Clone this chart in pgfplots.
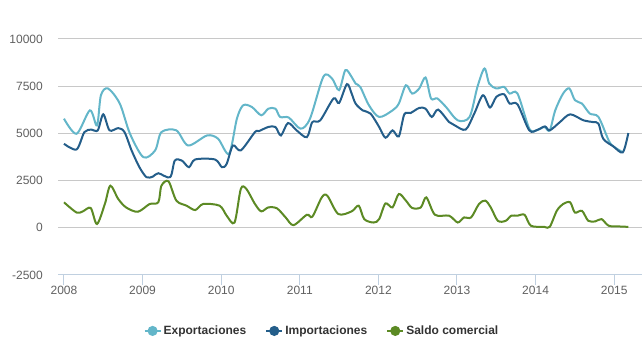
\documentclass[border=0pt]{standalone}
\usepackage{fontspec}
\setmainfont{Liberation Sans}
\usepackage{pgfplots}
\pgfplotsset{compat=1.18}
\definecolor{expo}{RGB}{99,182,201}
\definecolor{impo}{RGB}{36,94,138}
\definecolor{saldo}{RGB}{92,138,36}
\definecolor{gridc}{RGB}{200,200,200}
\definecolor{axisc}{RGB}{192,208,224}
\definecolor{labc}{RGB}{96,96,96}
\definecolor{legc}{RGB}{51,51,51}
\begin{document}
\begin{tikzpicture}[x=1pt,y=1pt]
\path[use as bounding box] (0,0) rectangle (642,350);
\begin{axis}[
  at={(58pt,75pt)}, anchor=south west,
  scale only axis, width=584pt, height=236pt,
  xmin=2007.924, xmax=2015.354, ymin=-2500, ymax=10000,
  axis x line*=bottom, axis y line*=left,
  x axis line style={-, draw=axisc, line width=1pt},
  y axis line style={draw=none},
  xtick={2008,2009,2010,2011,2012,2013,2014,2015},
  ytick={-2500,0,2500,5000,7500,10000},
  scaled y ticks=false, scaled x ticks=false,
  xtick align=outside, major tick length=10pt,
  xtick style={draw=axisc, line width=1pt},
  ytick style={draw=none},
  ymajorgrids, grid style={draw=gridc, line width=1pt},
  tick label style={font=\fontsize{12}{14}\selectfont, text=labc},
  /pgf/number format/1000 sep={},
  /pgf/number format/assume math mode=true,
  yticklabel style={anchor=east, inner sep=0pt, xshift=-15pt},
  xticklabel style={anchor=north, inner sep=0pt, yshift=-1pt},
  legend style={at={(0.452,-0.237)}, anchor=center, draw=none, fill=none,
    legend columns=3, font=\bfseries\fontsize{12}{14}\selectfont,
    nodes={text=legc, inner sep=2pt},
    /tikz/every even column/.append style={column sep=17pt}},
  legend image code/.code={\draw[#1, line width=2pt] (0pt,0pt) -- (16pt,0pt); \fill[#1] (8pt,0pt) circle (4pt);},
  every axis plot/.append style={line width=2pt, smooth, tension=0.5, mark=none},
]
\addplot[expo] coordinates {
(2008.00,5780) (2008.16,4980) (2008.33,6220) (2008.42,5420) (2008.47,7020)
(2008.56,7380) (2008.71,6580) (2008.84,4980) (2009.01,3740) (2009.16,4100)
(2009.24,5070) (2009.43,5160) (2009.58,4360) (2009.82,4890) (2009.96,4720)
(2010.10,3920) (2010.20,5780) (2010.28,6490) (2010.39,6400) (2010.51,5960)
(2010.60,6310) (2010.69,6310) (2010.75,5870) (2010.86,5840) (2011.01,5250)
(2011.13,5780) (2011.30,8000) (2011.41,7910) (2011.50,7290) (2011.58,8350)
(2011.66,7990) (2011.71,7640) (2011.77,7460) (2011.88,6490) (2012.01,5870)
(2012.18,6220) (2012.26,6580) (2012.35,7550) (2012.43,7110) (2012.52,7380)
(2012.60,7960) (2012.67,6850) (2012.75,6850) (2012.86,6400) (2013.01,5690)
(2013.16,5870) (2013.26,7460) (2013.35,8440) (2013.41,7640) (2013.50,7380)
(2013.60,7460) (2013.67,7110) (2013.77,7110) (2013.92,5250) (2014.01,5160)
(2014.11,5340) (2014.18,5160) (2014.25,6220) (2014.35,7110) (2014.43,7380)
(2014.50,6760) (2014.59,6580) (2014.69,6050) (2014.80,5870) (2014.93,4630)
(2014.99,4310) (2015.11,4000)
};
\addlegendentry{Exportaciones}
\addplot[impo] coordinates {
(2008.00,4450) (2008.16,4150) (2008.26,5070) (2008.35,5200) (2008.43,5160)
(2008.50,6010) (2008.58,5160) (2008.69,5280) (2008.77,5070) (2008.86,4100)
(2008.96,3210) (2009.05,2680) (2009.13,2710) (2009.20,2890) (2009.35,2680)
(2009.41,3560) (2009.50,3560) (2009.59,3210) (2009.67,3620) (2009.92,3620)
(2010.01,3210) (2010.07,3390) (2010.15,4360) (2010.25,4100) (2010.43,5070)
(2010.48,5120) (2010.60,5340) (2010.69,5340) (2010.76,4890) (2010.85,5550)
(2010.96,5160) (2011.09,4800) (2011.16,5600) (2011.26,5690) (2011.43,6850)
(2011.50,6610) (2011.60,7610) (2011.66,7110) (2011.71,6580) (2011.80,6220)
(2011.90,6050) (2012.01,5340) (2012.09,4770) (2012.18,5160) (2012.26,4840)
(2012.33,6010) (2012.41,6080) (2012.52,6350) (2012.60,6310) (2012.68,5870)
(2012.76,6260) (2012.90,5600) (2012.97,5430) (2013.11,5200) (2013.22,6050)
(2013.33,7020) (2013.42,6370) (2013.50,6930) (2013.60,7070) (2013.67,6580)
(2013.77,6540) (2013.92,5160) (2014.03,5200) (2014.12,5370) (2014.18,5160)
(2014.31,5600) (2014.44,6010) (2014.61,5690) (2014.73,5600) (2014.80,5520)
(2014.86,4720) (2014.99,4310) (2015.11,4000) (2015.18,5020)
};
\addlegendentry{Importaciones}
\addplot[saldo] coordinates {
(2008.00,1350) (2008.16,810) (2008.24,870) (2008.34,1050) (2008.42,200)
(2008.52,1260) (2008.59,2230) (2008.69,1530) (2008.79,1080) (2008.94,850)
(2009.09,1260) (2009.20,1350) (2009.24,2230) (2009.33,2460) (2009.43,1440)
(2009.56,1170) (2009.67,940) (2009.77,1260) (2009.98,1170) (2010.07,640)
(2010.17,280) (2010.25,2060) (2010.32,2060) (2010.43,1260) (2010.51,870)
(2010.60,1080) (2010.71,1030) (2010.82,550) (2010.92,140) (2011.09,690)
(2011.16,590) (2011.28,1610) (2011.35,1700) (2011.49,730) (2011.66,870)
(2011.75,1170) (2011.82,460) (2011.94,280) (2012.01,460) (2012.09,1290)
(2012.18,1080) (2012.26,1790) (2012.35,1440) (2012.43,1050) (2012.54,1080)
(2012.61,1610) (2012.72,690) (2012.90,640) (2013.01,280) (2013.09,550)
(2013.18,550) (2013.28,1260) (2013.36,1440) (2013.43,1080) (2013.52,370)
(2013.62,370) (2013.69,640) (2013.77,640) (2013.86,690) (2013.94,110)
(2014.11,50) (2014.18,50) (2014.27,900) (2014.35,1260) (2014.44,1350)
(2014.50,810) (2014.59,900) (2014.67,370) (2014.76,340) (2014.84,460)
(2014.93,110) (2015.07,70) (2015.18,50)
};
\addlegendentry{Saldo comercial}
\end{axis}
\end{tikzpicture}
\end{document}
